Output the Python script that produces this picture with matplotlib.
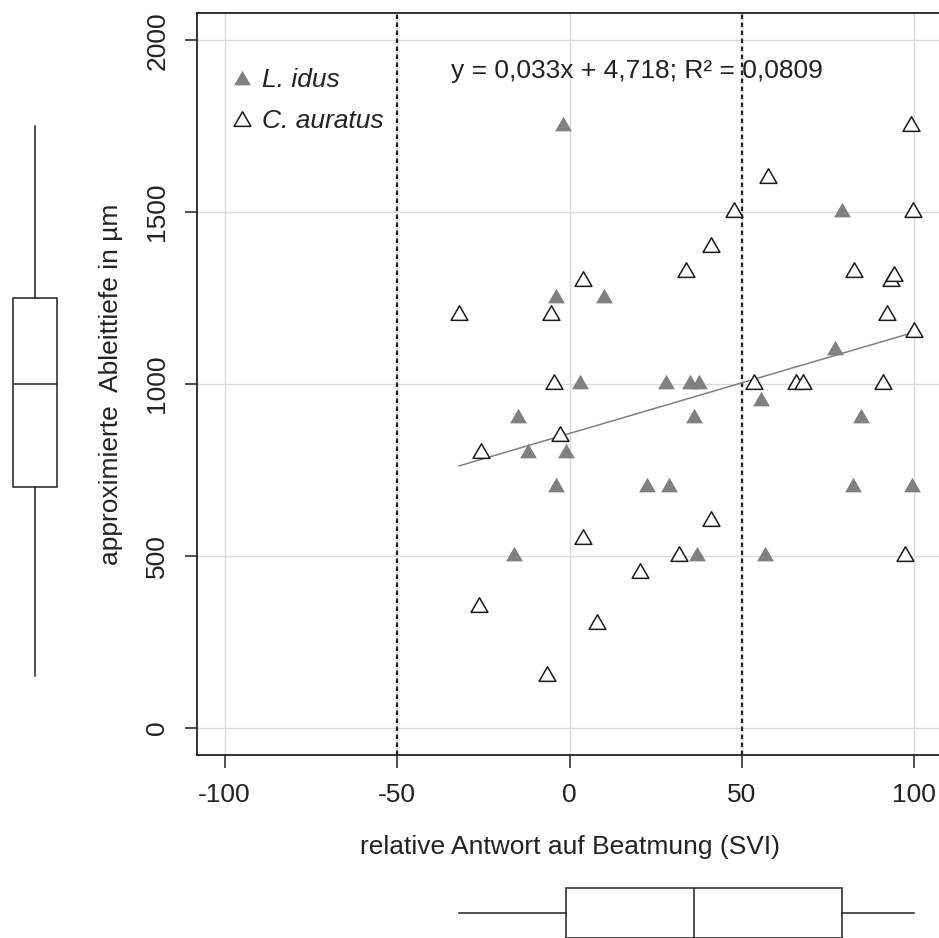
import numpy as np
import matplotlib.pyplot as plt
from matplotlib.path import Path

plt.rcParams['font.family'] = ['Liberation Sans', 'DejaVu Sans']
plt.rcParams['axes.unicode_minus'] = False

# L. idus (gefuellte Dreiecke)
idus_x = [-2, -4, 10, 79, 3, 28, 35, 37.6, 77, -15, 36, 55.6, 84.4, -12, -1,
          -4, 22.4, 28.8, 82.2, 99.2, -16.2, 36.9, 56.6]
idus_y = [1750, 1250, 1250, 1500, 1000, 1000, 1000, 1000, 1100, 900, 900, 950, 900, 800, 800,
          700, 700, 700, 700, 700, 500, 500, 500]

# C. auratus (offene Dreiecke)
aur_x = [-32, -5.3, 3.8, -4.5, -2.8, -25.8, 3.8, -26.3, 7.9, -6.4, 20.5, 31.8, 41,
         33.8, 41.1, 47.7, 57.6, 53.6, 65.7, 67.6, 82.4, 93.2, 94.1, 92, 90.9,
         99, 99.7, 100, 97.2]
aur_y = [1200, 1200, 1300, 1000, 850, 800, 550, 350, 300, 150, 450, 500, 600,
         1325, 1400, 1500, 1600, 1000, 1000, 1000, 1325, 1300, 1315, 1200, 1000,
         1750, 1500, 1150, 500]

# Regressionsgerade
fit_slope = 2.95
fit_intercept = 856
fit_label = 'y = 0,033x + 4,718; R² = 0,0809'

# Boxplot-Kennwerte (min, Q1, Median, Q3, max)
box_y = [150, 700, 1000, 1250, 1750]
box_x = [-32, -1, 36, 79, 100]

xticks = [-100, -50, 0, 50, 100]
yticks = [0, 500, 1000, 1500, 2000]
thresholds = [-50, 50]

W, H = 939, 938
FS = 19
fig = plt.figure(figsize=(W / 100, H / 100), dpi=100)

# gleichseitiges Dreieck, um den Schwerpunkt zentriert (wie R pch 2/17)
tri = Path([(0, 1), (-0.866, -0.5), (0.866, -0.5), (0, 1)],
           [Path.MOVETO, Path.LINETO, Path.LINETO, Path.CLOSEPOLY])

ax = fig.add_axes([197 / W, 1 - 755 / H, 745 / W, 742 / H])
ax.set_xlim(-108, 108)
ax.set_ylim(-80, 2080)
ax.set_xticks(xticks)
ax.set_yticks(yticks)
ax.set_xticklabels([str(v) for v in xticks])
ax.set_yticklabels([str(v) for v in yticks])
ax.grid(True, color='#dadada', lw=1.0, zorder=0)
ax.set_axisbelow(True)
for v in thresholds:
    ax.axvline(v, color='#222222', lw=1.6, ls=(0, (2, 1.6)), zorder=1)

xs = np.array([min(idus_x + aur_x), max(idus_x + aur_x)])
ax.plot(xs, fit_intercept + fit_slope * xs, color='#808080', lw=1.1, zorder=2)

ax.scatter(idus_x, idus_y, marker=tri, s=14 ** 2, color='#808080', lw=0, zorder=3,
           label='L. idus')
ax.scatter(aur_x, aur_y, marker=tri, s=14 ** 2, facecolor='white', edgecolor='#1a1a1a',
           lw=1.1, zorder=3, label='C. auratus')

ax.text(-34.5, 1912, fit_label, fontsize=FS, color='#222222', va='center', ha='left')
leg = ax.legend(loc='upper left', bbox_to_anchor=(0.0, 0.965), frameon=False,
                prop={'size': FS, 'style': 'italic'}, handletextpad=0.15,
                handlelength=1.2, labelspacing=0.65, borderaxespad=0.7)
for t in leg.get_texts():
    t.set_color('#222222')

ax.tick_params(length=9, width=1.1, labelsize=FS, colors='#222222')
ax.tick_params(axis='x', pad=11)
ax.tick_params(axis='y', pad=11)
for lab in ax.get_yticklabels():
    lab.set_rotation(90)
    lab.set_va('center')
for s in ax.spines.values():
    s.set_linewidth(1.3)
    s.set_color('#222222')
ax.set_xlabel('relative Antwort auf Beatmung (SVI)', fontsize=FS, color='#222222',
              labelpad=20)
ax.set_ylabel('approximierte  Ableittiefe in µm', fontsize=FS, color='#222222',
              labelpad=16)

bstyle = dict(boxprops=dict(color='#222222', lw=1.1),
              medianprops=dict(color='#222222', lw=1.1),
              whiskerprops=dict(color='#222222', lw=1.1),
              capprops=dict(lw=0), showfliers=False, patch_artist=True)

# linker Boxplot (y)
axl = fig.add_axes([0, 1 - 755 / H, 70 / W, 742 / H])
axl.set_xlim(0, 70)
axl.set_ylim(-80, 2080)
stats_y = [dict(whislo=box_y[0], q1=box_y[1], med=box_y[2], q3=box_y[3], whishi=box_y[4])]
b = axl.bxp(stats_y, positions=[35], widths=44, vert=True, **bstyle)
for p in b['boxes']:
    p.set_facecolor('white')
axl.axis('off')

# unterer Boxplot (x), am Bildrand abgeschnitten
axb = fig.add_axes([197 / W, 1 - 963 / H, 745 / W, 100 / H])
axb.set_xlim(-108, 108)
axb.set_ylim(0, 100)
stats_x = [dict(whislo=box_x[0], q1=box_x[1], med=box_x[2], q3=box_x[3], whishi=box_x[4])]
b = axb.bxp(stats_x, positions=[50], widths=50, vert=False, **bstyle)
for p in b['boxes']:
    p.set_facecolor('white')
axb.axis('off')

fig.savefig('out.png', dpi=100)
